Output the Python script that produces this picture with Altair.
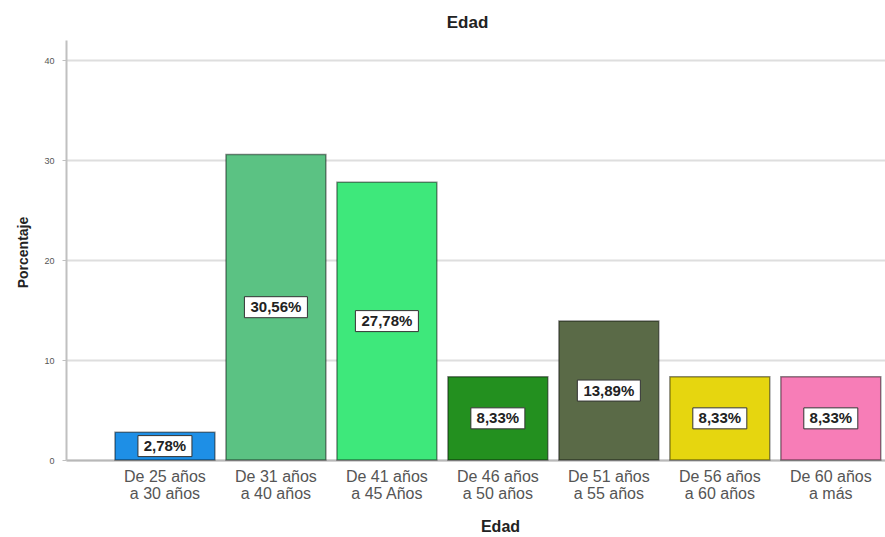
import altair as alt
import pandas as pd

categories = [
    "De 25 años a 30 años",
    "De 31 años a 40 años",
    "De 41 años a 45 Años",
    "De 46 años a 50 años",
    "De 51 años a 55 años",
    "De 56 años a 60 años",
    "De 60 años a más",
]
percentages = [2.78, 30.56, 27.78, 8.33, 13.89, 8.33, 8.33]
bar_colors = ["#1e8fe6", "#5bc283", "#3ee87b", "#23901f", "#5a6a47", "#e6d60f", "#f77db7"]

df = pd.DataFrame({"Edad": categories, "pct": percentages})

FONT = "Liberation Sans"

x_scale = alt.Scale(domain=categories, paddingInner=0.1, paddingOuter=0.24, align=0.92)
y_scale = alt.Scale(domain=[0, 42], nice=False)

x_enc = alt.X(
    "Edad:N",
    scale=x_scale,
    sort=categories,
    axis=alt.Axis(
        title="Edad",
        labelExpr="[slice(datum.label, 0, 10), slice(datum.label, 11)]",
        labelAngle=0,
        labelFont=FONT,
        labelFontSize=16,
        labelColor="#555555",
        labelLineHeight=17,
        labelPadding=8,
        ticks=False,
        domainColor="#b8b8b8",
        domainWidth=2,
        titleFont=FONT,
        titleFontSize=16,
        titleFontWeight="bold",
        titleColor="#222222",
        titleX=434,
        titleY=66,
        titleBaseline="middle",
        titleAnchor="start",
        titleAlign="center",
    ),
)

y_enc = alt.Y(
    "pct:Q",
    scale=y_scale,
    axis=alt.Axis(
        title="Porcentaje",
        values=[0, 10, 20, 30, 40],
        labelFont=FONT,
        labelFontSize=9,
        labelColor="#555555",
        labelPadding=8,
        tickSize=4,
        tickColor="#c0c0c0",
        domainColor="#c0c0c0",
        domainWidth=2,
        grid=True,
        gridColor="#dedede",
        gridWidth=2,
        titleFont=FONT,
        titleFontSize=14,
        titleFontWeight="bold",
        titleColor="#222222",
        titleX=-43,
        titleY=212,
        titleBaseline="middle",
        titleAngle=-90,
    ),
)

bars = alt.Chart(df).mark_bar(stroke="#000000", strokeOpacity=0.45, strokeWidth=1.5).encode(
    x=x_enc,
    y=y_enc,
    color=alt.Color("Edad:N", scale=alt.Scale(domain=categories, range=bar_colors), legend=None),
)

label_base = alt.Chart(df).transform_calculate(
    mid="datum.pct / 2",
    label="replace(format(datum.pct, '.2f'), '.', ',') + '%'",
).transform_calculate(
    w="length(datum.label) * 9 + 9",
).transform_calculate(
    sz="datum.w * datum.w",
    k="21 / datum.w",
).transform_calculate(
    path="'M-1,-' + datum.k + 'L1,-' + datum.k + 'L1,' + datum.k + 'L-1,' + datum.k + 'Z'",
)

boxes = label_base.mark_point(filled=True, fill="white", stroke="#333333", strokeWidth=1, opacity=1).encode(
    x=alt.X("Edad:N", scale=x_scale, sort=categories),
    y=alt.Y("mid:Q", scale=y_scale),
    shape=alt.Shape("path:N", scale=None),
    size=alt.Size("sz:Q", scale=None),
)

texts = label_base.mark_text(font=FONT, fontSize=15, fontWeight="bold", color="#222222", baseline="middle").encode(
    x=alt.X("Edad:N", scale=x_scale, sort=categories),
    y=alt.Y("mid:Q", scale=y_scale),
    text="label:N",
)

chart = alt.layer(bars, boxes, texts).properties(
    width=819,
    height=420,
    title=alt.TitleParams("Edad", font=FONT, fontSize=17, fontWeight="bold", color="#222222", offset=8, dx=-8),
    padding={"left": 66, "top": 40, "right": 0, "bottom": 77},
    autosize=alt.AutoSizeParams(type="none"),
    background="white",
).configure_view(stroke=None)

chart.save("out.html", embed_options={"renderer": "svg", "actions": False})
